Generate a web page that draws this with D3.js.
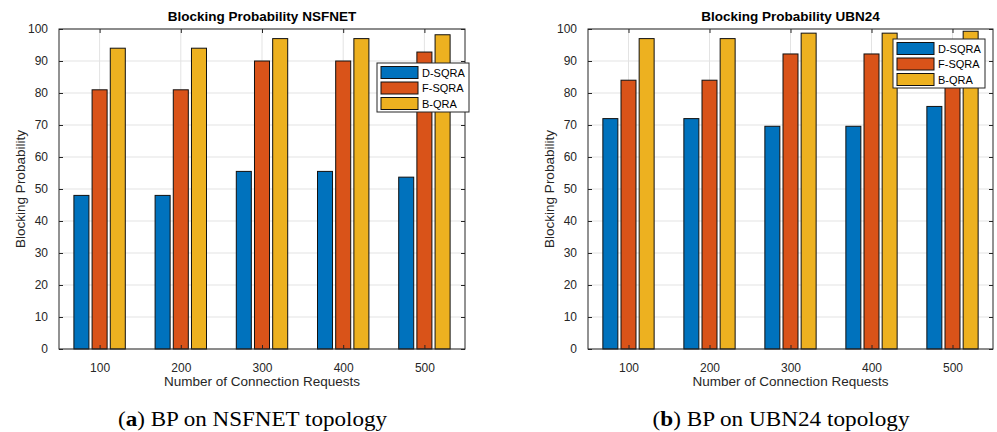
<!DOCTYPE html>
<html>
<head>
<meta charset="utf-8">
<script src="https://cdn.jsdelivr.net/npm/d3@7"></script>
<style>
  html, body { margin: 0; padding: 0; background: #fff; }
  svg { display: block; }
  text { font-family: "Liberation Sans", Arial, Helvetica, sans-serif; }
</style>
</head>
<body>
<svg id="chart" width="997" height="432"></svg>
<script>
// Connection request counts (x categories)
const categories = ["100", "200", "300", "400", "500"];
const seriesNames = ["D-SQRA", "F-SQRA", "B-QRA"];
const seriesColors = ["#0072BD", "#D95319", "#EDB120"];
const yTickValues = [0, 10, 20, 30, 40, 50, 60, 70, 80, 90, 100];

// Blocking probability, NSFNET topology
const nsfnetDSQRA = [48, 48, 55.5, 55.5, 53.7];
const nsfnetFSQRA = [81, 81, 90, 90, 92.8];
const nsfnetBQRA  = [94, 94, 97, 97, 98.2];

// Blocking probability, UBN24 topology
const ubn24DSQRA = [72, 72, 69.6, 69.6, 75.8];
const ubn24FSQRA = [84, 84, 92.2, 92.2, 92.5];
const ubn24BQRA  = [97, 97, 98.7, 98.7, 99.3];

const svg = d3.select("#chart");
const axisColor = "#262626";
const gridColor = "#e3e3e3";

function drawPanel(cfg) {
  const { left, right, top, bottom, title, series, legend, caption } = cfg;
  const g = svg.append("g");

  const x = d3.scaleLinear().domain([0.5, categories.length + 0.5]).range([left, right]);
  const y = d3.scaleLinear().domain([0, 100]).range([bottom, top]);

  // grid lines behind the bars
  g.append("g").selectAll("line.hg").data(yTickValues).join("line")
    .attr("x1", left).attr("x2", right)
    .attr("y1", d => y(d)).attr("y2", d => y(d))
    .attr("stroke", gridColor).attr("stroke-width", 1);
  g.append("g").selectAll("line.vg").data(categories).join("line")
    .attr("x1", (d, i) => x(i + 1)).attr("x2", (d, i) => x(i + 1))
    .attr("y1", top).attr("y2", bottom)
    .attr("stroke", gridColor).attr("stroke-width", 1);

  // grouped bars
  const unit = x(2) - x(1);
  const offsets = [-0.224, 0, 0.224];
  const barW = 0.185 * unit;
  series.forEach((vals, s) => {
    g.append("g").selectAll("rect").data(vals).join("rect")
      .attr("x", (d, i) => x(i + 1 + offsets[s]) - barW / 2)
      .attr("width", barW)
      .attr("y", d => y(d))
      .attr("height", d => y(0) - y(d))
      .attr("fill", seriesColors[s])
      .attr("stroke", "#111")
      .attr("stroke-width", 1);
  });

  // axes with inward ticks on all four sides
  const tickLen = 4;
  const yAxis = d3.axisLeft(y).tickValues(yTickValues).tickSize(-tickLen).tickPadding(7 + tickLen);
  const yAxisR = d3.axisRight(y).tickValues(yTickValues).tickSize(-tickLen).tickFormat("");
  const xAxis = d3.axisBottom(x).tickValues(d3.range(1, categories.length + 1))
    .tickFormat(d => categories[d - 1]).tickSize(-tickLen).tickPadding(10 + tickLen);
  const xAxisT = d3.axisTop(x).tickValues(d3.range(1, categories.length + 1))
    .tickSize(-tickLen).tickFormat("");

  const styleAxis = sel => {
    sel.select(".domain").remove();
    sel.selectAll("line").attr("stroke", axisColor);
    sel.selectAll("text").attr("fill", axisColor).style("font-size", "12px")
      .style("font-family", '"Liberation Sans", Arial, sans-serif');
  };
  g.append("g").attr("transform", `translate(${left},0)`).call(yAxis).call(styleAxis);
  g.append("g").attr("transform", `translate(${right},0)`).call(yAxisR).call(styleAxis);
  g.append("g").attr("transform", `translate(0,${bottom})`).call(xAxis).call(styleAxis);
  g.append("g").attr("transform", `translate(0,${top})`).call(xAxisT).call(styleAxis);

  // box
  g.append("rect").attr("x", left).attr("y", top)
    .attr("width", right - left).attr("height", bottom - top)
    .attr("fill", "none").attr("stroke", axisColor).attr("stroke-width", 1);

  // title and axis labels
  g.append("text").attr("x", (left + right) / 2).attr("y", top - 8)
    .attr("text-anchor", "middle").attr("font-weight", "bold")
    .attr("font-size", 13.5).attr("fill", "#000").text(title);
  g.append("text").attr("x", (left + right) / 2).attr("y", bottom + 37)
    .attr("text-anchor", "middle").attr("font-size", 13.5)
    .attr("fill", axisColor).text("Number of Connection Requests");
  g.append("text")
    .attr("transform", `translate(${left - 34},${(top + bottom) / 2}) rotate(-90)`)
    .attr("text-anchor", "middle").attr("font-size", 13.5)
    .attr("fill", axisColor).text("Blocking Probability");

  // legend
  const lg = g.append("g").attr("transform", `translate(${legend.x},${legend.y})`);
  lg.append("rect").attr("width", 92).attr("height", 49)
    .attr("fill", "#fff").attr("stroke", axisColor).attr("stroke-width", 1);
  seriesNames.forEach((name, s) => {
    const cy = 9.5 + s * 15.5;
    lg.append("rect").attr("x", 4).attr("y", cy - 6).attr("width", 37).attr("height", 12)
      .attr("fill", seriesColors[s]).attr("stroke", "#111").attr("stroke-width", 1);
    lg.append("text").attr("x", 45).attr("y", cy + 4).attr("font-size", 11)
      .attr("fill", "#000").text(name);
  });

  // caption
  const cap = svg.append("text").attr("x", caption.x).attr("y", 426)
    .attr("text-anchor", "middle")
    .style("font-family", '"Liberation Serif", "DejaVu Serif", serif')
    .attr("font-size", 21).attr("fill", "#000");
  cap.append("tspan").text("(");
  cap.append("tspan").attr("font-weight", "bold").text(caption.letter);
  cap.append("tspan").text(") " + caption.text);
  cap.attr("textLength", caption.width).attr("lengthAdjust", "spacingAndGlyphs");
}

drawPanel({
  left: 59, right: 465, top: 29, bottom: 349,
  title: "Blocking Probability NSFNET",
  series: [nsfnetDSQRA, nsfnetFSQRA, nsfnetBQRA],
  legend: { x: 377, y: 63 },
  caption: { x: 252.5, letter: "a", text: "BP on NSFNET topology", width: 269 }
});

drawPanel({
  left: 588, right: 993, top: 29, bottom: 349,
  title: "Blocking Probability UBN24",
  series: [ubn24DSQRA, ubn24FSQRA, ubn24BQRA],
  legend: { x: 893, y: 39 },
  caption: { x: 781, letter: "b", text: "BP on UBN24 topology", width: 257 }
});
</script>
</body>
</html>
